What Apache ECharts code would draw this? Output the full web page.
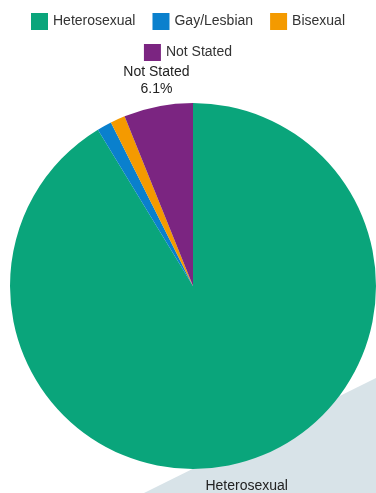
<!DOCTYPE html>
<html>
<head>
<meta charset="utf-8">
<script src="https://cdn.jsdelivr.net/npm/echarts@6/dist/echarts.min.js"></script>
<style>
  html, body { margin: 0; padding: 0; background: #ffffff; }
  #chart { width: 376px; height: 493px; }
</style>
</head>
<body>
<div id="chart"></div>
<script>
// Sexual orientation breakdown (percent of respondents)
const categories = ['Heterosexual', 'Gay/Lesbian', 'Bisexual', 'Not Stated'];
const values = [91.3, 1.3, 1.3, 6.1];
const colors = ['#0aa57b', '#0a80cd', '#f49a00', '#7b2581'];
// legend rows, each centred on its own
const legendRow1 = ['Heterosexual', 'Gay/Lesbian', 'Bisexual'];
const legendRow2 = ['Not Stated'];
// which slices carry a label, and whether the label includes the percentage
const showLabel = [true, false, false, true];
const showPercent = [false, false, false, true];

const chart = echarts.init(document.getElementById('chart'), null, { renderer: 'canvas' });

const CX = 193, CY = 286, R = 183;
const total = values.reduce((a, b) => a + b, 0);
const FONT = 'Liberation Sans, Arial, sans-serif';

// mid-angle of each slice, measured clockwise from 12 o'clock
const midAngles = [];
let acc = 0;
values.forEach(v => {
  midAngles.push((acc + v / 2) / total * Math.PI * 2);
  acc += v;
});

const legendBase = {
  left: 'center',
  itemWidth: 17,
  itemHeight: 17,
  itemGap: 17,
  icon: 'rect',
  textStyle: { fontSize: 14, color: '#333333', fontFamily: FONT }
};

const option = {
  animation: false,
  backgroundColor: '#ffffff',
  color: colors,
  textStyle: { fontFamily: FONT },
  graphic: [{
    type: 'polygon',
    silent: true,
    z: -10,
    shape: { points: [[144, 493], [376, 378], [376, 493]] },
    style: { fill: '#d8e3e8' }
  }],
  legend: [
    Object.assign({}, legendBase, { top: 8, data: legendRow1 }),
    Object.assign({}, legendBase, { top: 39, data: legendRow2 })
  ],
  series: [{
    type: 'pie',
    center: [CX, CY],
    radius: [0, R],
    startAngle: 90,
    clockwise: true,
    avoidLabelOverlap: false,
    itemStyle: { borderWidth: 0 },
    emphasis: { disabled: true },
    labelLine: { show: false },
    label: {
      position: 'outside',
      fontSize: 14,
      lineHeight: 17,
      color: '#222222',
      fontFamily: FONT,
      formatter: p => showPercent[p.dataIndex] ? p.name + '\n' + p.value.toFixed(1) + '%' : p.name
    },
    labelLayout: params => {
      const a = midAngles[params.dataIndex];
      const top = Math.cos(a) > 0;
      const d = top ? 9 : 16;
      return {
        x: CX + (R + d) * Math.sin(a),
        y: CY - (R + d) * Math.cos(a),
        align: 'center',
        verticalAlign: top ? 'bottom' : 'top'
      };
    },
    data: categories.map((name, i) => ({
      name,
      value: values[i],
      label: { show: showLabel[i] }
    }))
  }]
};

chart.setOption(option);
</script>
</body>
</html>
